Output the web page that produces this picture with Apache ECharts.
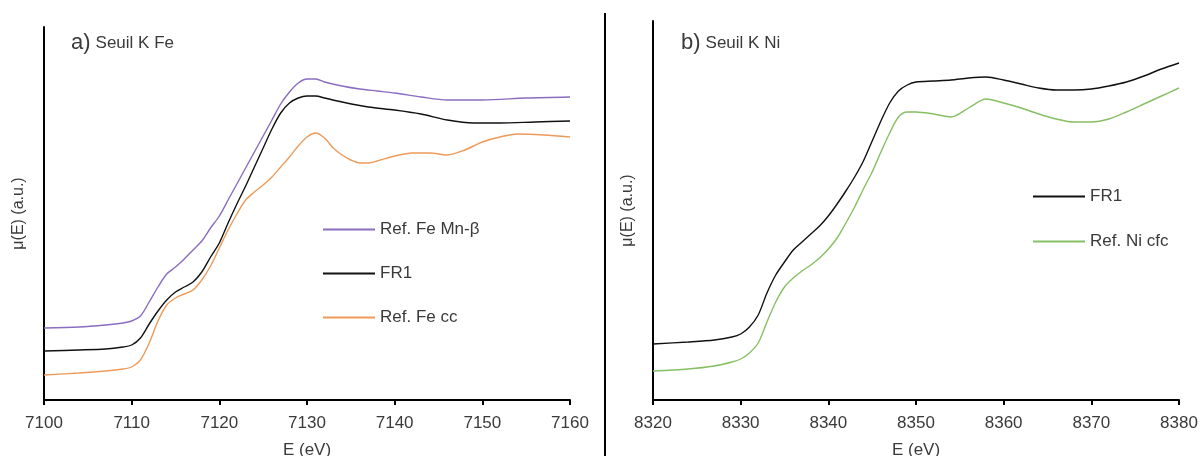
<!DOCTYPE html>
<html>
<head>
<meta charset="utf-8">
<script src="https://cdn.jsdelivr.net/npm/echarts@6/dist/echarts.min.js"></script>
<style>
html,body{margin:0;padding:0;background:#fff;}
#chart{width:1201px;height:456px;}
</style>
</head>
<body>
<div id="chart"></div>
<script>
// Panel a) Fe K-edge : [E (eV), mu(E) a.u.]
var feMnBeta = [[7100,0.72],[7104,0.73],[7107,0.75],[7109,0.77],[7110,0.79],[7111,0.84],[7112,0.98],[7113,1.13],[7114,1.26],[7115,1.33],[7116,1.41],[7117,1.50],[7118,1.59],[7119,1.72],[7120,1.84],[7121,2.00],[7122,2.16],[7123,2.32],[7124,2.48],[7125,2.64],[7126,2.80],[7127,2.96],[7128,3.08],[7129,3.17],[7130,3.21],[7131,3.21],[7132,3.18],[7134,3.14],[7136,3.11],[7138,3.09],[7140,3.07],[7143,3.03],[7146,3.00],[7150,3.00],[7155,3.02],[7160,3.03]];
var feFR1 = [[7100,0.49],[7104,0.50],[7107,0.51],[7109,0.53],[7110,0.55],[7111,0.62],[7112,0.76],[7113,0.89],[7114,1.00],[7115,1.08],[7116,1.13],[7117,1.18],[7118,1.28],[7119,1.43],[7120,1.57],[7121,1.77],[7122,1.96],[7123,2.14],[7124,2.33],[7125,2.52],[7126,2.71],[7127,2.87],[7128,2.97],[7129,3.02],[7130,3.04],[7131,3.04],[7132,3.02],[7134,2.98],[7137,2.93],[7140,2.90],[7143,2.86],[7146,2.80],[7149,2.77],[7152,2.77],[7156,2.78],[7160,2.79]];
var feCC = [[7100,0.25],[7104,0.27],[7107,0.29],[7109,0.31],[7110,0.33],[7111,0.40],[7112,0.57],[7113,0.79],[7114,0.95],[7115,1.02],[7116,1.06],[7117,1.10],[7118,1.20],[7119,1.34],[7120,1.52],[7121,1.70],[7122,1.86],[7123,2.00],[7124,2.08],[7125,2.15],[7126,2.23],[7127,2.33],[7128,2.43],[7129,2.54],[7130,2.63],[7131,2.67],[7132,2.62],[7133,2.52],[7134,2.45],[7135,2.40],[7136,2.37],[7137,2.37],[7138,2.39],[7140,2.44],[7142,2.47],[7144,2.47],[7146,2.45],[7148,2.50],[7150,2.58],[7152,2.63],[7154,2.66],[7157,2.65],[7160,2.63]];
// Panel b) Ni K-edge
var niFR1 = [[8320,0.56],[8324,0.58],[8327,0.60],[8329,0.63],[8330,0.66],[8331,0.73],[8332,0.85],[8333,1.07],[8334,1.25],[8335,1.38],[8336,1.50],[8337,1.58],[8338,1.66],[8339,1.74],[8340,1.84],[8341,1.96],[8342,2.09],[8343,2.23],[8344,2.39],[8345,2.59],[8346,2.79],[8347,2.97],[8348,3.09],[8349,3.15],[8350,3.18],[8352,3.19],[8354,3.20],[8356,3.22],[8358,3.23],[8360,3.20],[8362,3.16],[8364,3.12],[8366,3.10],[8368,3.10],[8370,3.11],[8372,3.14],[8374,3.18],[8376,3.24],[8378,3.31],[8380,3.37]];
var niCFC = [[8320,0.29],[8324,0.31],[8327,0.34],[8329,0.38],[8330,0.41],[8331,0.47],[8332,0.57],[8333,0.78],[8334,0.98],[8335,1.13],[8336,1.22],[8337,1.29],[8338,1.35],[8339,1.42],[8340,1.51],[8341,1.62],[8342,1.77],[8343,1.93],[8344,2.11],[8345,2.28],[8346,2.48],[8347,2.67],[8348,2.83],[8349,2.88],[8350,2.88],[8352,2.86],[8354,2.83],[8356,2.92],[8358,3.01],[8360,2.97],[8362,2.92],[8364,2.86],[8366,2.81],[8368,2.78],[8370,2.78],[8372,2.81],[8374,2.88],[8376,2.96],[8378,3.04],[8380,3.12]];

var namesA = ['Ref. Fe Mn-β','FR1','Ref. Fe cc'];
var namesB = ['FR1 ','Ref. Ni cfc'];
var titleA = ['a)','Seuil K Fe'];
var titleB = ['b)','Seuil K Ni'];

var font = 'Liberation Sans, Arial, sans-serif';
var txt = '#3a3a3a';
var chart = echarts.init(document.getElementById('chart'));

function xAx(idx, min, max){
  return {
    type:'value', gridIndex:idx, min:min, max:max, interval:10,
    name:'E (eV)', nameLocation:'middle', nameGap:42,
    nameTextStyle:{fontFamily:font,fontSize:17,color:txt},
    axisLine:{lineStyle:{color:'#000',width:2}},
    axisTick:{show:true,inside:false,length:5,lineStyle:{color:'#000',width:2}},
    axisLabel:{fontFamily:font,fontSize:17,color:txt,margin:15,formatter:function(v){return String(v);}},
    splitLine:{show:false}
  };
}
function yAx(idx, max){
  return {
    type:'value', gridIndex:idx, min:0, max:max,
    name:'μ(E) (a.u.)', nameLocation:'middle', nameGap:17, nameRotate:90,
    nameTextStyle:{fontFamily:font,fontSize:16,color:txt},
    axisLine:{show:true,lineStyle:{color:'#000',width:2}},
    axisTick:{show:false}, axisLabel:{show:false}, splitLine:{show:false}
  };
}
function ser(name, data, color, xi){
  return {type:'line', name:name, data:data, xAxisIndex:xi, yAxisIndex:xi,
    smooth:0.3, symbol:'none', lineStyle:{color:color,width:1.4}, itemStyle:{color:color}};
}
function ttl(parts, left){
  return {text:'{a|'+parts[0]+'} {b|'+parts[1]+'}', left:left, top:27,
    textStyle:{fontWeight:'normal',rich:{
      a:{fontFamily:font,fontSize:22,color:txt,fontWeight:'normal'},
      b:{fontFamily:font,fontSize:17,color:txt,fontWeight:'normal'}}}};
}

chart.setOption({
  animation:false,
  backgroundColor:'#fff',
  title:[ttl(titleA,66), ttl(titleB,676)],
  grid:[
    {left:44, right:631, top:27, bottom:56, containLabel:false, outerBoundsMode:'none'},
    {left:653, right:22, top:21, bottom:56, containLabel:false, outerBoundsMode:'none'}
  ],
  xAxis:[xAx(0,7100,7160), xAx(1,8320,8380)],
  yAxis:[yAx(0,3.73), yAx(1,3.79)],
  legend:[
    {data:namesA, orient:'vertical', left:318, top:216, icon:'rect', itemWidth:52, itemHeight:2, itemGap:27,
     textStyle:{fontFamily:font,fontSize:17,color:txt,lineHeight:17}},
    {data:namesB, orient:'vertical', left:1028, top:183, icon:'rect', itemWidth:52, itemHeight:2, itemGap:28,
     textStyle:{fontFamily:font,fontSize:17,color:txt,lineHeight:17}}
  ],
  graphic:[
    {type:'line', shape:{x1:605,y1:13,x2:605,y2:456}, style:{stroke:'#000',lineWidth:2}}
  ],
  series:[
    ser(namesA[0], feMnBeta, '#8a6cc0', 0),
    ser(namesA[1], feFR1, '#111111', 0),
    ser(namesA[2], feCC, '#ee9a5a', 0),
    ser(namesB[0], niFR1, '#111111', 1),
    ser(namesB[1], niCFC, '#86bf64', 1)
  ]
});
</script>
</body>
</html>
